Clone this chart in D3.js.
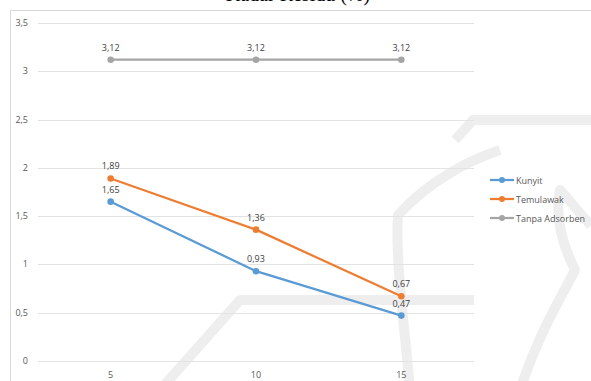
<!DOCTYPE html>
<meta charset="utf-8">
<body style="margin:0;background:#fff">
<style>
  text { font-family: "Open Sans", sans-serif; }
  .tick-lbl { font-size: 9px; fill: #595959; }
  .val-lbl { font-size: 9px; fill: #404040; text-anchor: middle; }
  .leg { font-size: 9px; fill: #595959; }
</style>
<svg width="591" height="381"></svg>
<script src="https://d3js.org/d3.v7.min.js"></script>
<script>
// data
var categories = ["5", "10", "15"];
var kunyit = [1.65, 0.93, 0.47];
var temulawak = [1.89, 1.36, 0.67];
var tanpa = [3.12, 3.12, 3.12];
var yTicks = [0, 0.5, 1, 1.5, 2, 2.5, 3, 3.5];
var seriesNames = ["Kunyit", "Temulawak", "Tanpa Adsorben"];
var colors = ["#5b9bd5", "#ed7d31", "#a5a5a5"];

var series = [kunyit, temulawak, tanpa];
var fmt = function (v) { return d3.format(".2f")(v).replace(".", ","); };
var tickFmt = function (v) { return String(v).replace(".", ","); };

var svg = d3.select("svg");

// watermark, faint
var wm = svg.append("g").attr("fill", "none").attr("stroke", "#eeeeee")
    .attr("stroke-width", 10).attr("stroke-linejoin", "round");
wm.append("path").attr("d", "M160,390 L240,300 L474,300");
wm.append("path").attr("d", "M455,140 L473,120 L600,120");
wm.append("path").attr("d", "M410,390 C405,330 395,260 398,215 C430,180 470,160 500,150");
wm.append("path").attr("d", "M520,390 C540,330 560,300 575,270 C560,240 555,215 560,190 C570,200 580,215 591,225");

// title (cut off at top)
svg.append("text").attr("x", 298).attr("y", 1).attr("text-anchor", "middle")
    .style("font-family", "'Liberation Serif', serif").style("font-size", "20px")
    .attr("fill", "#000").text("Kadar Residu (%)");

// chart frame
svg.append("rect").attr("x", 10.5).attr("y", 10.5).attr("width", 600).attr("height", 400)
    .attr("fill", "none").attr("stroke", "#d9d9d9");

var x = d3.scalePoint().domain(categories).range([38, 474]).padding(0.5);
var y = d3.scaleLinear().domain([0, 3.5]).range([361, 23]);

// grid
svg.append("g").selectAll("line").data(yTicks).enter().append("line")
    .attr("x1", 38).attr("x2", 474)
    .attr("y1", function (d) { return Math.round(y(d)) + 0.5; })
    .attr("y2", function (d) { return Math.round(y(d)) + 0.5; })
    .attr("stroke", "#e3e3e3").attr("stroke-width", 1);

svg.append("g").selectAll("text").data(yTicks).enter().append("text")
    .attr("class", "tick-lbl").attr("text-anchor", "end")
    .attr("x", 28).attr("y", function (d) { return y(d) + 3; })
    .text(tickFmt);

svg.append("g").selectAll("text").data(categories).enter().append("text")
    .attr("class", "tick-lbl").attr("text-anchor", "middle")
    .attr("x", function (d) { return x(d); }).attr("y", 378)
    .text(function (d) { return d; });

var line = d3.line().x(function (d, i) { return x(categories[i]); }).y(function (d) { return y(d); });

series.forEach(function (s, k) {
  var g = svg.append("g");
  g.append("path").datum(s).attr("d", line).attr("fill", "none")
      .attr("stroke", colors[k]).attr("stroke-width", 2.25);
  g.selectAll("circle").data(s).enter().append("circle")
      .attr("cx", function (d, i) { return x(categories[i]); })
      .attr("cy", function (d) { return y(d); })
      .attr("r", 3.3).attr("fill", colors[k]);
  g.selectAll("text").data(s).enter().append("text").attr("class", "val-lbl")
      .attr("x", function (d, i) { return x(categories[i]); })
      .attr("y", function (d) { return y(d) - 9; })
      .text(fmt);
});

// legend
var leg = svg.append("g");
seriesNames.forEach(function (n, k) {
  var yy = 180 + k * 19;
  leg.append("line").attr("x1", 490).attr("x2", 514).attr("y1", yy).attr("y2", yy)
      .attr("stroke", colors[k]).attr("stroke-width", 2.25);
  leg.append("circle").attr("cx", 502).attr("cy", yy).attr("r", 3).attr("fill", colors[k]);
  leg.append("text").attr("class", "leg").attr("x", 516).attr("y", yy + 3.5).text(n);
});
</script>
</body>
